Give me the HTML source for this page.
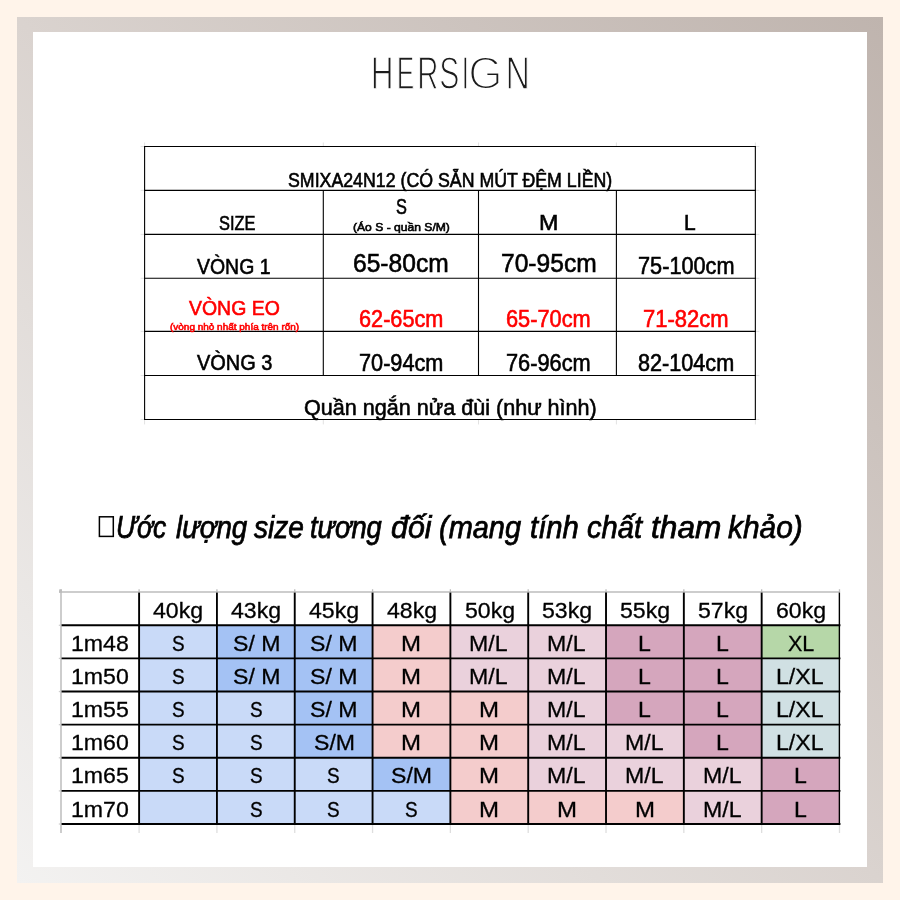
<!DOCTYPE html>
<html lang="vi"><head><meta charset="utf-8"><title>HERSIGN – bảng size SMIXA24N12</title>
<style>
html,body{margin:0;padding:0;overflow:hidden}
body{width:900px;height:900px;position:relative;overflow:hidden;background:#fff4ea;font-family:"Liberation Sans", sans-serif;color:#000}
.frame{position:absolute;left:16.7px;top:16.7px;width:866.4px;height:866.4px;background:linear-gradient(225deg,#bfb4ae 0%,#dad3cf 50%,#f3f2f1 100%)}
.panel{position:absolute;left:32.6px;top:32.4px;width:834.7px;height:834.7px;background:#fff}
.t{position:absolute;white-space:nowrap;line-height:1;transform-origin:0 0;margin:0;font-weight:400}
.tt .t{-webkit-text-stroke:.6px currentColor}
.i{font-style:italic;-webkit-text-stroke:.75px currentColor}
.lg{position:absolute;margin:0;white-space:nowrap;line-height:1;font-weight:400;color:#1c1c1c}
.lg span{display:inline-block;transform-origin:0 0}
.bt .t{font-size:22px;-webkit-text-stroke:.3px currentColor}
section,h1,h2{will-change:transform}
.cell{position:absolute}
svg{position:absolute;left:0;top:0;overflow:visible}
</style></head><body>
<div class="frame"></div><div class="panel"></div>
<h1 class="lg" style="left:370.00px;top:49.70px;font-size:46.08px"><span style="transform:translateX(0.65px) scaleX(0.6852);-webkit-text-stroke:1.4px #fff">H</span><span style="transform:translateX(-6.33px) scaleX(0.5714);-webkit-text-stroke:1.4px #fff">E</span><span style="transform:translateX(-16.75px) scaleX(0.6372);-webkit-text-stroke:1.4px #fff">R</span><span style="transform:translateX(-27.69px) scaleX(0.6549);-webkit-text-stroke:1.4px #fff">S</span><span style="transform:translateX(-36.62px) scaleX(0.6044);-webkit-text-stroke:1.4px #fff">I</span><span style="transform:translateX(-42.85px) scaleX(0.9561);-webkit-text-stroke:2px #fff">G</span><span style="transform:translateX(-41.43px) scaleX(0.7341);-webkit-text-stroke:1.4px #fff">N</span></h1>
<section class="tt" aria-label="Bảng size">
<svg width="900" height="900" viewBox="0 0 900 900" aria-hidden="true"><line x1="144.60" y1="142.50" x2="144.60" y2="146.50" stroke="#e2e2e2" stroke-width="1"/><line x1="144.60" y1="419.45" x2="144.60" y2="424.45" stroke="#e2e2e2" stroke-width="1"/><line x1="323.30" y1="142.50" x2="323.30" y2="146.50" stroke="#e2e2e2" stroke-width="1"/><line x1="323.30" y1="419.45" x2="323.30" y2="424.45" stroke="#e2e2e2" stroke-width="1"/><line x1="478.50" y1="142.50" x2="478.50" y2="146.50" stroke="#e2e2e2" stroke-width="1"/><line x1="478.50" y1="419.45" x2="478.50" y2="424.45" stroke="#e2e2e2" stroke-width="1"/><line x1="616.40" y1="142.50" x2="616.40" y2="146.50" stroke="#e2e2e2" stroke-width="1"/><line x1="616.40" y1="419.45" x2="616.40" y2="424.45" stroke="#e2e2e2" stroke-width="1"/><line x1="755.35" y1="142.50" x2="755.35" y2="146.50" stroke="#e2e2e2" stroke-width="1"/><line x1="755.35" y1="419.45" x2="755.35" y2="424.45" stroke="#e2e2e2" stroke-width="1"/><line x1="140.60" y1="146.50" x2="144.60" y2="146.50" stroke="#e2e2e2" stroke-width="1"/><line x1="755.35" y1="146.50" x2="759.35" y2="146.50" stroke="#e2e2e2" stroke-width="1"/><line x1="140.60" y1="190.35" x2="144.60" y2="190.35" stroke="#e2e2e2" stroke-width="1"/><line x1="755.35" y1="190.35" x2="759.35" y2="190.35" stroke="#e2e2e2" stroke-width="1"/><line x1="140.60" y1="234.40" x2="144.60" y2="234.40" stroke="#e2e2e2" stroke-width="1"/><line x1="755.35" y1="234.40" x2="759.35" y2="234.40" stroke="#e2e2e2" stroke-width="1"/><line x1="140.60" y1="278.30" x2="144.60" y2="278.30" stroke="#e2e2e2" stroke-width="1"/><line x1="755.35" y1="278.30" x2="759.35" y2="278.30" stroke="#e2e2e2" stroke-width="1"/><line x1="140.60" y1="331.40" x2="144.60" y2="331.40" stroke="#e2e2e2" stroke-width="1"/><line x1="755.35" y1="331.40" x2="759.35" y2="331.40" stroke="#e2e2e2" stroke-width="1"/><line x1="140.60" y1="375.55" x2="144.60" y2="375.55" stroke="#e2e2e2" stroke-width="1"/><line x1="755.35" y1="375.55" x2="759.35" y2="375.55" stroke="#e2e2e2" stroke-width="1"/><line x1="140.60" y1="419.45" x2="144.60" y2="419.45" stroke="#e2e2e2" stroke-width="1"/><line x1="755.35" y1="419.45" x2="759.35" y2="419.45" stroke="#e2e2e2" stroke-width="1"/><line x1="144.05" y1="146.50" x2="755.90" y2="146.50" stroke="#000" stroke-width="1.1"/><line x1="144.05" y1="190.35" x2="755.90" y2="190.35" stroke="#000" stroke-width="1.1"/><line x1="144.05" y1="234.40" x2="755.90" y2="234.40" stroke="#000" stroke-width="1.1"/><line x1="144.05" y1="278.30" x2="755.90" y2="278.30" stroke="#000" stroke-width="1.1"/><line x1="144.05" y1="331.40" x2="755.90" y2="331.40" stroke="#000" stroke-width="1.1"/><line x1="144.05" y1="375.55" x2="755.90" y2="375.55" stroke="#000" stroke-width="1.1"/><line x1="144.05" y1="419.45" x2="755.90" y2="419.45" stroke="#000" stroke-width="1.1"/><line x1="144.60" y1="146.50" x2="144.60" y2="419.45" stroke="#000" stroke-width="1.1"/><line x1="755.35" y1="146.50" x2="755.35" y2="419.45" stroke="#000" stroke-width="1.1"/><line x1="323.30" y1="190.35" x2="323.30" y2="375.55" stroke="#000" stroke-width="1.1"/><line x1="478.50" y1="190.35" x2="478.50" y2="375.55" stroke="#000" stroke-width="1.1"/><line x1="616.40" y1="190.35" x2="616.40" y2="375.55" stroke="#000" stroke-width="1.1"/></svg>
<span class="t" style="left:288.05px;top:171.00px;font-size:19.77px;transform:scaleX(0.8981)">SMIXA24N12 (CÓ SẴN MÚT ĐỆM LIỀN)</span>
<span class="t" style="left:219.19px;top:214.10px;font-size:19.63px;transform:scaleX(0.8366)">SIZE</span>
<span class="t" style="left:395.79px;top:197.30px;font-size:21.48px;transform:scaleX(0.7606)">S</span>
<span class="t" style="left:352.73px;top:222.30px;font-size:11.38px;transform:scaleX(1.0639)">(Áo S - quần S/M)</span>
<span class="t" style="left:538.88px;top:212.00px;font-size:22.04px;transform:scaleX(1.0559)">M</span>
<span class="t" style="left:683.96px;top:212.40px;font-size:22.61px;transform:scaleX(0.9273)">L</span>
<span class="t" style="left:197.00px;top:255.60px;font-size:22.61px;transform:scaleX(0.8601)">VÒNG 1</span>
<span class="t" style="left:352.85px;top:250.00px;font-size:26.03px;transform:scaleX(0.9452)">65-80cm</span>
<span class="t" style="left:500.55px;top:250.00px;font-size:26.03px;transform:scaleX(0.9452)">70-95cm</span>
<span class="t" style="left:637.88px;top:255.40px;font-size:23.47px;transform:scaleX(0.925)">75-100cm</span>
<span class="t" style="left:189.40px;top:296.90px;font-size:21.05px;transform:scaleX(0.9246);color:#ff0000">VÒNG EO</span>
<span class="t" style="left:169.93px;top:321.60px;font-size:9.79px;transform:scaleX(1.0195);color:#ff0000">(vòng nhỏ nhất phía trên rốn)</span>
<span class="t" style="left:358.98px;top:308.10px;font-size:23.61px;transform:scaleX(0.9193);color:#ff0000">62-65cm</span>
<span class="t" style="left:505.68px;top:308.10px;font-size:23.61px;transform:scaleX(0.9226);color:#ff0000">65-70cm</span>
<span class="t" style="left:643.37px;top:307.80px;font-size:23.18px;transform:scaleX(0.9488);color:#ff0000">71-82cm</span>
<span class="t" style="left:197.00px;top:352.20px;font-size:22.33px;transform:scaleX(0.8937)">VÒNG 3</span>
<span class="t" style="left:358.98px;top:352.10px;font-size:23.61px;transform:scaleX(0.9193)">70-94cm</span>
<span class="t" style="left:505.68px;top:352.10px;font-size:23.61px;transform:scaleX(0.9226)">76-96cm</span>
<span class="t" style="left:638.22px;top:351.80px;font-size:23.18px;transform:scaleX(0.9332)">82-104cm</span>
<span class="t" style="left:303.99px;top:395.80px;font-size:22.9px;transform:scaleX(0.9426)">Quần ngắn nửa đùi (như hình)</span>
</section>
<h2 style="margin:0;font-size:0">
<svg width="900" height="900" viewBox="0 0 900 900" aria-hidden="true"><rect x="99.4" y="516.8" width="13.9" height="19.6" fill="none" stroke="#000" stroke-width="1.5"/></svg>
<span class="t i" style="left:115.85px;top:511.60px;font-size:31.15px;transform:scaleX(0.8483)">Ước</span>
<span class="t i" style="left:175.57px;top:511.60px;font-size:31.15px;transform:scaleX(0.8891)">lượng</span>
<span class="t i" style="left:253.90px;top:511.60px;font-size:31.15px;transform:scaleX(0.9026)">size</span>
<span class="t i" style="left:310.35px;top:511.60px;font-size:31.15px;transform:scaleX(0.8767)">tương</span>
<span class="t i" style="left:390.75px;top:511.60px;font-size:31.15px;transform:scaleX(0.9744)">đối</span>
<span class="t i" style="left:439.34px;top:511.60px;font-size:31.15px;transform:scaleX(0.9295)">(mang</span>
<span class="t i" style="left:530.19px;top:511.60px;font-size:31.15px;transform:scaleX(0.9392)">tính</span>
<span class="t i" style="left:587.29px;top:511.60px;font-size:31.15px;transform:scaleX(0.9341)">chất</span>
<span class="t i" style="left:650.81px;top:511.60px;font-size:31.15px;transform:scaleX(1.0156)">tham</span>
<span class="t i" style="left:728.43px;top:511.60px;font-size:31.15px;transform:scaleX(0.9588)">khảo)</span>
</h2>
<section class="bt" aria-label="Ước lượng size">
<div class="cell" style="left:139.10px;top:625.30px;width:77.82px;height:33.12px;background:#c9daf8"></div>
<div class="cell" style="left:216.92px;top:625.30px;width:77.82px;height:33.12px;background:#a4c2f4"></div>
<div class="cell" style="left:294.74px;top:625.30px;width:77.82px;height:33.12px;background:#a4c2f4"></div>
<div class="cell" style="left:372.56px;top:625.30px;width:77.82px;height:33.12px;background:#f4cccc"></div>
<div class="cell" style="left:450.38px;top:625.30px;width:77.82px;height:33.12px;background:#ead1dc"></div>
<div class="cell" style="left:528.20px;top:625.30px;width:77.82px;height:33.12px;background:#ead1dc"></div>
<div class="cell" style="left:606.02px;top:625.30px;width:77.82px;height:33.12px;background:#d5a6bd"></div>
<div class="cell" style="left:683.84px;top:625.30px;width:77.82px;height:33.12px;background:#d5a6bd"></div>
<div class="cell" style="left:761.66px;top:625.30px;width:77.82px;height:33.12px;background:#b6d7a8"></div>
<div class="cell" style="left:139.10px;top:658.42px;width:77.82px;height:33.12px;background:#c9daf8"></div>
<div class="cell" style="left:216.92px;top:658.42px;width:77.82px;height:33.12px;background:#a4c2f4"></div>
<div class="cell" style="left:294.74px;top:658.42px;width:77.82px;height:33.12px;background:#a4c2f4"></div>
<div class="cell" style="left:372.56px;top:658.42px;width:77.82px;height:33.12px;background:#f4cccc"></div>
<div class="cell" style="left:450.38px;top:658.42px;width:77.82px;height:33.12px;background:#ead1dc"></div>
<div class="cell" style="left:528.20px;top:658.42px;width:77.82px;height:33.12px;background:#ead1dc"></div>
<div class="cell" style="left:606.02px;top:658.42px;width:77.82px;height:33.12px;background:#d5a6bd"></div>
<div class="cell" style="left:683.84px;top:658.42px;width:77.82px;height:33.12px;background:#d5a6bd"></div>
<div class="cell" style="left:761.66px;top:658.42px;width:77.82px;height:33.12px;background:#d0e0e3"></div>
<div class="cell" style="left:139.10px;top:691.54px;width:77.82px;height:33.12px;background:#c9daf8"></div>
<div class="cell" style="left:216.92px;top:691.54px;width:77.82px;height:33.12px;background:#c9daf8"></div>
<div class="cell" style="left:294.74px;top:691.54px;width:77.82px;height:33.12px;background:#a4c2f4"></div>
<div class="cell" style="left:372.56px;top:691.54px;width:77.82px;height:33.12px;background:#f4cccc"></div>
<div class="cell" style="left:450.38px;top:691.54px;width:77.82px;height:33.12px;background:#f4cccc"></div>
<div class="cell" style="left:528.20px;top:691.54px;width:77.82px;height:33.12px;background:#ead1dc"></div>
<div class="cell" style="left:606.02px;top:691.54px;width:77.82px;height:33.12px;background:#d5a6bd"></div>
<div class="cell" style="left:683.84px;top:691.54px;width:77.82px;height:33.12px;background:#d5a6bd"></div>
<div class="cell" style="left:761.66px;top:691.54px;width:77.82px;height:33.12px;background:#d0e0e3"></div>
<div class="cell" style="left:139.10px;top:724.66px;width:77.82px;height:33.12px;background:#c9daf8"></div>
<div class="cell" style="left:216.92px;top:724.66px;width:77.82px;height:33.12px;background:#c9daf8"></div>
<div class="cell" style="left:294.74px;top:724.66px;width:77.82px;height:33.12px;background:#a4c2f4"></div>
<div class="cell" style="left:372.56px;top:724.66px;width:77.82px;height:33.12px;background:#f4cccc"></div>
<div class="cell" style="left:450.38px;top:724.66px;width:77.82px;height:33.12px;background:#f4cccc"></div>
<div class="cell" style="left:528.20px;top:724.66px;width:77.82px;height:33.12px;background:#ead1dc"></div>
<div class="cell" style="left:606.02px;top:724.66px;width:77.82px;height:33.12px;background:#ead1dc"></div>
<div class="cell" style="left:683.84px;top:724.66px;width:77.82px;height:33.12px;background:#d5a6bd"></div>
<div class="cell" style="left:761.66px;top:724.66px;width:77.82px;height:33.12px;background:#d0e0e3"></div>
<div class="cell" style="left:139.10px;top:757.78px;width:77.82px;height:33.12px;background:#c9daf8"></div>
<div class="cell" style="left:216.92px;top:757.78px;width:77.82px;height:33.12px;background:#c9daf8"></div>
<div class="cell" style="left:294.74px;top:757.78px;width:77.82px;height:33.12px;background:#c9daf8"></div>
<div class="cell" style="left:372.56px;top:757.78px;width:77.82px;height:33.12px;background:#a4c2f4"></div>
<div class="cell" style="left:450.38px;top:757.78px;width:77.82px;height:33.12px;background:#f4cccc"></div>
<div class="cell" style="left:528.20px;top:757.78px;width:77.82px;height:33.12px;background:#ead1dc"></div>
<div class="cell" style="left:606.02px;top:757.78px;width:77.82px;height:33.12px;background:#ead1dc"></div>
<div class="cell" style="left:683.84px;top:757.78px;width:77.82px;height:33.12px;background:#ead1dc"></div>
<div class="cell" style="left:761.66px;top:757.78px;width:77.82px;height:33.12px;background:#d5a6bd"></div>
<div class="cell" style="left:139.10px;top:790.90px;width:77.82px;height:33.12px;background:#c9daf8"></div>
<div class="cell" style="left:216.92px;top:790.90px;width:77.82px;height:33.12px;background:#c9daf8"></div>
<div class="cell" style="left:294.74px;top:790.90px;width:77.82px;height:33.12px;background:#c9daf8"></div>
<div class="cell" style="left:372.56px;top:790.90px;width:77.82px;height:33.12px;background:#c9daf8"></div>
<div class="cell" style="left:450.38px;top:790.90px;width:77.82px;height:33.12px;background:#f4cccc"></div>
<div class="cell" style="left:528.20px;top:790.90px;width:77.82px;height:33.12px;background:#f4cccc"></div>
<div class="cell" style="left:606.02px;top:790.90px;width:77.82px;height:33.12px;background:#f4cccc"></div>
<div class="cell" style="left:683.84px;top:790.90px;width:77.82px;height:33.12px;background:#ead1dc"></div>
<div class="cell" style="left:761.66px;top:790.90px;width:77.82px;height:33.12px;background:#d5a6bd"></div>
<svg width="900" height="900" viewBox="0 0 900 900" aria-hidden="true"><rect x="59.2" y="589.4" width="2.6" height="3.3" fill="#b9b9b9"/><line x1="59.00" y1="592.00" x2="840.08" y2="592.00" stroke="#bdbdbd" stroke-width="1.4"/><line x1="61.00" y1="589.20" x2="61.00" y2="833.02" stroke="#bdbdbd" stroke-width="1.5"/><line x1="139.10" y1="589.20" x2="139.10" y2="592.00" stroke="#bdbdbd" stroke-width="1.3"/><line x1="139.10" y1="824.02" x2="139.10" y2="833.02" stroke="#dedede" stroke-width="1.3"/><line x1="216.92" y1="589.20" x2="216.92" y2="592.00" stroke="#bdbdbd" stroke-width="1.3"/><line x1="216.92" y1="824.02" x2="216.92" y2="833.02" stroke="#dedede" stroke-width="1.3"/><line x1="294.74" y1="589.20" x2="294.74" y2="592.00" stroke="#bdbdbd" stroke-width="1.3"/><line x1="294.74" y1="824.02" x2="294.74" y2="833.02" stroke="#dedede" stroke-width="1.3"/><line x1="372.56" y1="589.20" x2="372.56" y2="592.00" stroke="#bdbdbd" stroke-width="1.3"/><line x1="372.56" y1="824.02" x2="372.56" y2="833.02" stroke="#dedede" stroke-width="1.3"/><line x1="450.38" y1="589.20" x2="450.38" y2="592.00" stroke="#bdbdbd" stroke-width="1.3"/><line x1="450.38" y1="824.02" x2="450.38" y2="833.02" stroke="#dedede" stroke-width="1.3"/><line x1="528.20" y1="589.20" x2="528.20" y2="592.00" stroke="#bdbdbd" stroke-width="1.3"/><line x1="528.20" y1="824.02" x2="528.20" y2="833.02" stroke="#dedede" stroke-width="1.3"/><line x1="606.02" y1="589.20" x2="606.02" y2="592.00" stroke="#bdbdbd" stroke-width="1.3"/><line x1="606.02" y1="824.02" x2="606.02" y2="833.02" stroke="#dedede" stroke-width="1.3"/><line x1="683.84" y1="589.20" x2="683.84" y2="592.00" stroke="#bdbdbd" stroke-width="1.3"/><line x1="683.84" y1="824.02" x2="683.84" y2="833.02" stroke="#dedede" stroke-width="1.3"/><line x1="761.66" y1="589.20" x2="761.66" y2="592.00" stroke="#bdbdbd" stroke-width="1.3"/><line x1="761.66" y1="824.02" x2="761.66" y2="833.02" stroke="#dedede" stroke-width="1.3"/><line x1="839.48" y1="589.20" x2="839.48" y2="592.00" stroke="#bdbdbd" stroke-width="1.3"/><line x1="839.48" y1="824.02" x2="839.48" y2="833.02" stroke="#dedede" stroke-width="1.3"/><line x1="58.80" y1="625.30" x2="61.00" y2="625.30" stroke="#cfcfcf" stroke-width="1.3"/><line x1="58.80" y1="658.42" x2="61.00" y2="658.42" stroke="#cfcfcf" stroke-width="1.3"/><line x1="58.80" y1="691.54" x2="61.00" y2="691.54" stroke="#cfcfcf" stroke-width="1.3"/><line x1="58.80" y1="724.66" x2="61.00" y2="724.66" stroke="#cfcfcf" stroke-width="1.3"/><line x1="58.80" y1="757.78" x2="61.00" y2="757.78" stroke="#cfcfcf" stroke-width="1.3"/><line x1="58.80" y1="790.90" x2="61.00" y2="790.90" stroke="#cfcfcf" stroke-width="1.3"/><line x1="58.80" y1="824.02" x2="61.00" y2="824.02" stroke="#cfcfcf" stroke-width="1.3"/><line x1="61.60" y1="625.30" x2="840.43" y2="625.30" stroke="#000" stroke-width="1.9"/><line x1="61.60" y1="658.42" x2="840.43" y2="658.42" stroke="#000" stroke-width="1.9"/><line x1="61.60" y1="691.54" x2="840.43" y2="691.54" stroke="#000" stroke-width="1.9"/><line x1="61.60" y1="724.66" x2="840.43" y2="724.66" stroke="#000" stroke-width="1.9"/><line x1="61.60" y1="757.78" x2="840.43" y2="757.78" stroke="#000" stroke-width="1.9"/><line x1="61.60" y1="790.90" x2="840.43" y2="790.90" stroke="#000" stroke-width="1.9"/><line x1="61.60" y1="824.02" x2="840.43" y2="824.02" stroke="#000" stroke-width="1.9"/><line x1="139.10" y1="592.60" x2="139.10" y2="824.02" stroke="#000" stroke-width="1.9"/><line x1="216.92" y1="592.60" x2="216.92" y2="824.02" stroke="#000" stroke-width="1.9"/><line x1="294.74" y1="592.60" x2="294.74" y2="824.02" stroke="#000" stroke-width="1.9"/><line x1="372.56" y1="592.60" x2="372.56" y2="824.02" stroke="#000" stroke-width="1.9"/><line x1="450.38" y1="592.60" x2="450.38" y2="824.02" stroke="#000" stroke-width="1.9"/><line x1="528.20" y1="592.60" x2="528.20" y2="824.02" stroke="#000" stroke-width="1.9"/><line x1="606.02" y1="592.60" x2="606.02" y2="824.02" stroke="#000" stroke-width="1.9"/><line x1="683.84" y1="592.60" x2="683.84" y2="824.02" stroke="#000" stroke-width="1.9"/><line x1="761.66" y1="592.60" x2="761.66" y2="824.02" stroke="#000" stroke-width="1.9"/><line x1="839.38" y1="592.60" x2="839.38" y2="824.02" stroke="#000" stroke-width="1.4"/></svg>
<span class="t" style="left:153.43px;top:600.00px;transform:scaleX(1.05)">40kg</span>
<span class="t" style="left:231.25px;top:600.00px;transform:scaleX(1.05)">43kg</span>
<span class="t" style="left:309.07px;top:600.00px;transform:scaleX(1.05)">45kg</span>
<span class="t" style="left:386.89px;top:600.00px;transform:scaleX(1.05)">48kg</span>
<span class="t" style="left:464.53px;top:600.00px;transform:scaleX(1.05)">50kg</span>
<span class="t" style="left:542.35px;top:600.00px;transform:scaleX(1.05)">53kg</span>
<span class="t" style="left:620.17px;top:600.00px;transform:scaleX(1.05)">55kg</span>
<span class="t" style="left:697.99px;top:600.00px;transform:scaleX(1.05)">57kg</span>
<span class="t" style="left:775.63px;top:600.00px;transform:scaleX(1.05)">60kg</span>
<span class="t" style="left:71.20px;top:632.90px;transform:scaleX(1.05)">1m48</span>
<span class="t" style="left:171.79px;top:632.90px;transform:scaleX(0.861)">S</span>
<span class="t" style="left:232.50px;top:632.90px;transform:scaleX(1.05)">S/ M</span>
<span class="t" style="left:310.32px;top:632.90px;transform:scaleX(1.05)">S/ M</span>
<span class="t" style="left:401.33px;top:632.90px;transform:scaleX(1.092)">M</span>
<span class="t" style="left:469.42px;top:632.90px;transform:scaleX(1.05)">M/L</span>
<span class="t" style="left:547.24px;top:632.90px;transform:scaleX(1.05)">M/L</span>
<span class="t" style="left:637.89px;top:632.90px;transform:scaleX(1.05)">L</span>
<span class="t" style="left:715.71px;top:632.90px;transform:scaleX(1.05)">L</span>
<span class="t" style="left:787.53px;top:632.90px;transform:scaleX(0.977)">XL</span>
<span class="t" style="left:71.02px;top:666.02px;transform:scaleX(1.05)">1m50</span>
<span class="t" style="left:171.79px;top:666.02px;transform:scaleX(0.861)">S</span>
<span class="t" style="left:232.50px;top:666.02px;transform:scaleX(1.05)">S/ M</span>
<span class="t" style="left:310.32px;top:666.02px;transform:scaleX(1.05)">S/ M</span>
<span class="t" style="left:401.33px;top:666.02px;transform:scaleX(1.092)">M</span>
<span class="t" style="left:469.42px;top:666.02px;transform:scaleX(1.05)">M/L</span>
<span class="t" style="left:547.24px;top:666.02px;transform:scaleX(1.05)">M/L</span>
<span class="t" style="left:637.89px;top:666.02px;transform:scaleX(1.05)">L</span>
<span class="t" style="left:715.71px;top:666.02px;transform:scaleX(1.05)">L</span>
<span class="t" style="left:776.20px;top:666.02px;transform:scaleX(1.05)">L/XL</span>
<span class="t" style="left:71.20px;top:699.14px;transform:scaleX(1.05)">1m55</span>
<span class="t" style="left:171.79px;top:699.14px;transform:scaleX(0.861)">S</span>
<span class="t" style="left:249.61px;top:699.14px;transform:scaleX(0.861)">S</span>
<span class="t" style="left:310.32px;top:699.14px;transform:scaleX(1.05)">S/ M</span>
<span class="t" style="left:401.33px;top:699.14px;transform:scaleX(1.092)">M</span>
<span class="t" style="left:479.15px;top:699.14px;transform:scaleX(1.092)">M</span>
<span class="t" style="left:547.24px;top:699.14px;transform:scaleX(1.05)">M/L</span>
<span class="t" style="left:637.89px;top:699.14px;transform:scaleX(1.05)">L</span>
<span class="t" style="left:715.71px;top:699.14px;transform:scaleX(1.05)">L</span>
<span class="t" style="left:776.20px;top:699.14px;transform:scaleX(1.05)">L/XL</span>
<span class="t" style="left:71.02px;top:732.26px;transform:scaleX(1.05)">1m60</span>
<span class="t" style="left:171.79px;top:732.26px;transform:scaleX(0.861)">S</span>
<span class="t" style="left:249.61px;top:732.26px;transform:scaleX(0.861)">S</span>
<span class="t" style="left:313.53px;top:732.26px;transform:scaleX(1.05)">S/M</span>
<span class="t" style="left:401.33px;top:732.26px;transform:scaleX(1.092)">M</span>
<span class="t" style="left:479.15px;top:732.26px;transform:scaleX(1.092)">M</span>
<span class="t" style="left:547.24px;top:732.26px;transform:scaleX(1.05)">M/L</span>
<span class="t" style="left:625.06px;top:732.26px;transform:scaleX(1.05)">M/L</span>
<span class="t" style="left:715.71px;top:732.26px;transform:scaleX(1.05)">L</span>
<span class="t" style="left:776.20px;top:732.26px;transform:scaleX(1.05)">L/XL</span>
<span class="t" style="left:71.20px;top:765.38px;transform:scaleX(1.05)">1m65</span>
<span class="t" style="left:171.79px;top:765.38px;transform:scaleX(0.861)">S</span>
<span class="t" style="left:249.61px;top:765.38px;transform:scaleX(0.861)">S</span>
<span class="t" style="left:327.43px;top:765.38px;transform:scaleX(0.861)">S</span>
<span class="t" style="left:391.35px;top:765.38px;transform:scaleX(1.05)">S/M</span>
<span class="t" style="left:479.15px;top:765.38px;transform:scaleX(1.092)">M</span>
<span class="t" style="left:547.24px;top:765.38px;transform:scaleX(1.05)">M/L</span>
<span class="t" style="left:625.06px;top:765.38px;transform:scaleX(1.05)">M/L</span>
<span class="t" style="left:702.88px;top:765.38px;transform:scaleX(1.05)">M/L</span>
<span class="t" style="left:793.53px;top:765.38px;transform:scaleX(1.05)">L</span>
<span class="t" style="left:71.02px;top:798.50px;transform:scaleX(1.05)">1m70</span>
<span class="t" style="left:249.61px;top:798.50px;transform:scaleX(0.861)">S</span>
<span class="t" style="left:327.43px;top:798.50px;transform:scaleX(0.861)">S</span>
<span class="t" style="left:405.25px;top:798.50px;transform:scaleX(0.861)">S</span>
<span class="t" style="left:479.15px;top:798.50px;transform:scaleX(1.092)">M</span>
<span class="t" style="left:556.97px;top:798.50px;transform:scaleX(1.092)">M</span>
<span class="t" style="left:634.79px;top:798.50px;transform:scaleX(1.092)">M</span>
<span class="t" style="left:702.88px;top:798.50px;transform:scaleX(1.05)">M/L</span>
<span class="t" style="left:793.53px;top:798.50px;transform:scaleX(1.05)">L</span>
</section>
</body></html>
